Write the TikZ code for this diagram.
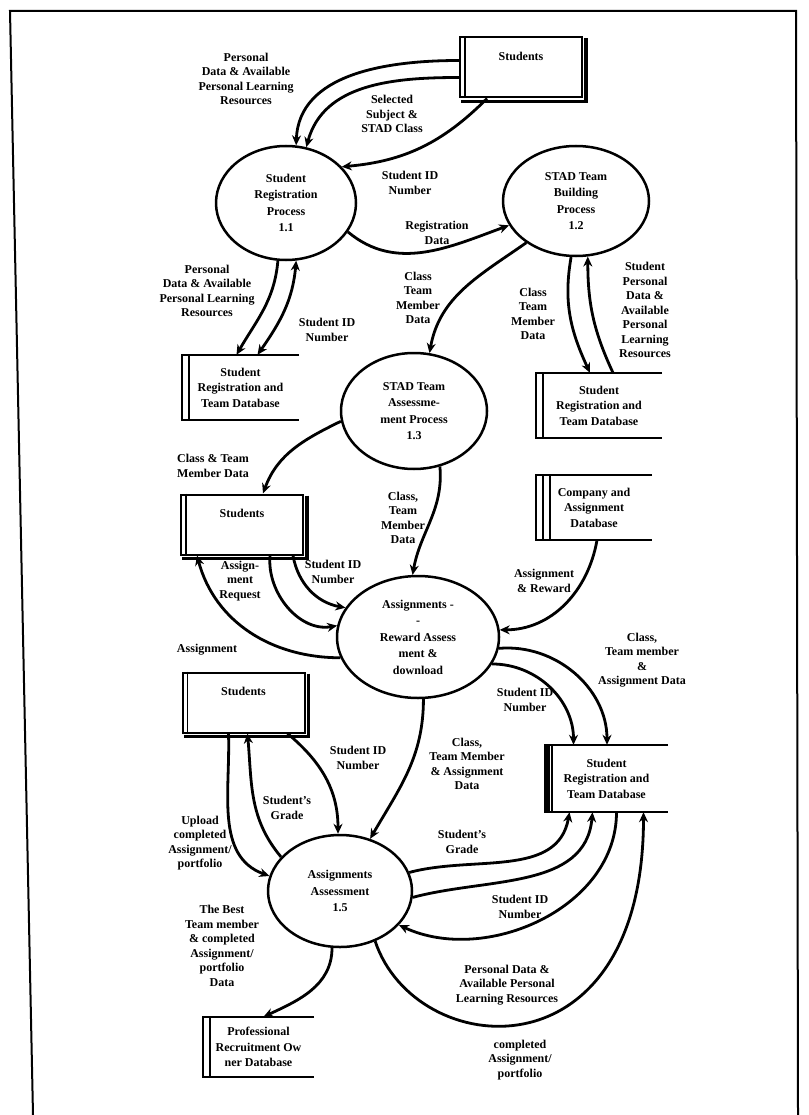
\documentclass[tikz,border=0pt]{standalone}
\usepackage{fontspec}
\setmainfont{Liberation Serif}
\usetikzlibrary{shapes.geometric,arrows.meta}

% data store: open box with a double left edge
\newcommand\storeframe[1]{%
  \draw[line width=2.4pt] (#1.north east) -- (#1.north west) -- (#1.south west) -- (#1.south east);
  \draw[line width=1.4pt] ([xshift=7pt]#1.north west) -- ([xshift=7pt]#1.south west);
}
% external entity: box with inner left line and a heavy shadow
\newcommand\entframe[1]{%
  \draw[line width=1.4pt] ([xshift=6pt]#1.north west) -- ([xshift=6pt]#1.south west);
  \draw[line width=3.5pt] ([shift={(3pt,-2pt)}]#1.north east) -- ([shift={(3pt,-3pt)}]#1.south east) -- ([shift={(2pt,-3pt)}]#1.south west);
}

\tikzset{
  flow/.style={line width=2.8pt,-{Stealth[length=10pt,width=9pt]}},
  twoway/.style={line width=2.8pt,{Stealth[length=10pt,width=9pt]}-{Stealth[length=10pt,width=9pt]}},
  proc/.style={draw,ellipse,line width=2.5pt,inner sep=0pt,align=center,font=\bfseries\fontsize{12}{16.5}\selectfont},
  ent/.style={draw,rectangle,line width=2pt,minimum width=122pt,text height=14pt,text depth=28pt,inner ysep=9pt,font=\bfseries\fontsize{12}{14}\selectfont},
  store/.style={rectangle,minimum height=65pt,inner sep=0pt,align=center,font=\bfseries\fontsize{12}{15.5}\selectfont},
  lbl/.style={align=center,inner sep=1pt,font=\bfseries\fontsize{12}{14.5}\selectfont}
}

\begin{document}
\begin{tikzpicture}[x=1pt,y=1pt]
\useasboundingbox (0,0) rectangle (808,-1115);
% page frame
\draw[line width=2pt] (33,-1115) -- (10,-11) -- (796,-11) -- (798,-1115);

% Processes
\node[proc,minimum width=140pt,minimum height=114pt] (reg) at (286,-203) {Student\\Registration\\Process\\1.1};
\node[proc,minimum width=146pt,minimum height=110pt] (team) at (576,-201) {STAD Team\\Building\\Process\\1.2};
\node[proc,minimum width=146pt,minimum height=116pt] (assess) at (414,-411) {STAD Team\\Assessme-\\ment Process\\1.3};
\node[proc,minimum width=162pt,minimum height=122pt] (asgn) at (418,-637) {Assignments -\\-\\Reward Assess\\ment \&\\download};
\node[proc,minimum width=144pt,minimum height=112pt] (eval) at (340,-891) {Assignments\\Assessment\\1.5};

% External entities
\node[ent] (stud1) at (521,-67.5) {Students};
\node[ent] (stud2) at (242,-524.5) {Students};
\node[ent] (stud3) at (243.5,-702.5) {Students};
\entframe{stud1}
\entframe{stud2}
\entframe{stud3}

% Data stores
\node[store,minimum width=117pt] (db1) at (240.5,-387.5) {Student\\Registration and\\Team Database};
\node[store,minimum width=126pt] (db2) at (599,-405.5) {Student\\Registration and\\Team Database};
\node[store,minimum width=116pt] (comp) at (594,-507.5) {Company and\\Assignment\\Database};
\node[store,minimum width=123pt,minimum height=67pt] (db3) at (606.5,-778.5) {Student\\Registration and\\Team Database};
\node[store,minimum width=111pt,minimum height=60pt] (prof) at (258.5,-1047) {Professional\\Recruitment Ow\\ner Database};
\storeframe{db1}
\storeframe{db2}
\storeframe{comp}
\draw[line width=1.4pt] ([xshift=14pt]comp.north west) -- ([xshift=14pt]comp.south west);
\storeframe{db3}
\draw[line width=4.5pt] ([xshift=3pt]db3.north west) -- ([xshift=3pt]db3.south west);
\storeframe{prof}

% Students <-> 1.1
\draw[flow] ([yshift=7]stud1.west) to[out=180,in=88] (reg.80);
\draw[flow] ([yshift=-10]stud1.west) to[out=180,in=75] (reg.70);
\draw[flow] ([xshift=-34]stud1.south) to[out=-135,in=5] (reg.33);
\node[lbl] (lPers1) at (246,-79) {Personal\\Data \& Available\\Personal Learning\\Resources};
\node[lbl] (lSel) at (392,-114) {Selected\\Subject \&\\STAD Class};
\node[lbl] (lId1) at (410,-183) {Student ID\\Number};

% 1.1 -> 1.2
\draw[flow] (reg.-25) to[out=-40,in=200] (team.200);
\node[lbl] (lRegData) at (437,-233) {Registration\\Data};

% 1.1 <-> store
\draw[flow] (reg.262) to[out=-95,in=60] ([xshift=-4]db1.north);
\draw[twoway] (reg.280) to[out=-95,in=55] ([xshift=17]db1.north);
\node[lbl] (lPers2) at (207,-291) {Personal\\Data \& Available\\Personal Learning\\Resources};
\node[lbl] (lId2) at (327,-330) {Student ID\\Number};

% 1.2 -> 1.3
\draw[flow] (team.220) to[out=215,in=80] (assess.75);
\node[lbl] (lTeam1) at (418,-298) {Class\\Team\\Member\\Data};

% 1.2 <-> store
\draw[flow] (team.265) to[out=-100,in=115] ([xshift=-9]db2.north);
\draw[flow] ([xshift=14]db2.north) to[out=115,in=-90] (team.282);
\node[lbl] (lTeam2) at (533,-314) {Class\\Team\\Member\\Data};
\node[lbl] (lPers3) at (645,-310) {Student\\Personal\\Data \&\\Available\\Personal\\Learning\\Resources};

% 1.3 -> Students, 1.3 -> assignments
\draw[flow] (assess.188) to[out=206,in=70] ([xshift=21]stud2.north);
\node[lbl] (lTeam3) at (213,-466) {Class \& Team\\Member Data};
\draw[flow] (assess.295) to[out=-85,in=80] (asgn.95);
\node[lbl] (lTeam4) at (403,-518) {Class,\\Team\\Member\\Data};

% company store -> assignments
\draw[flow] ([xshift=3]comp.south) to[out=-100,in=0] (asgn.5);
\node[lbl] (lRew) at (544,-581) {Assignment\\\& Reward};

% Students <-> assignments
\draw[flow] ([xshift=28]stud2.south) to[out=-95,in=190] (asgn.172);
\draw[flow] ([xshift=51]stud2.south) to[out=-80,in=170] (asgn.158);
\draw[flow] (asgn.195) to[out=180,in=-75] ([xshift=-45]stud2.south);
\node[lbl] (lReq) at (240,-581) {Assign-\\ment\\Request};
\node[lbl] (lId3) at (333,-572) {Student ID\\Number};
\node[lbl] (lAsg) at (207,-650) {Assignment};

% assignments -> store
\draw[flow] (asgn.-8) to[out=5,in=90] ([xshift=0.5]db3.north);
\draw[flow] (asgn.-20) to[out=0,in=90] ([xshift=-33]db3.north);
\node[lbl] (lTeam5) at (642,-660) {Class,\\Team member\\\&\\Assignment Data};
\node[lbl] (lId4) at (525,-700) {Student ID\\Number};

% assignments -> 1.5
\draw[flow] (asgn.275) to[out=-90,in=60] (eval.60);
\node[lbl] (lTeam6) at (467,-764) {Class,\\Team Member\\\& Assignment\\Data};

% Students <-> 1.5
\draw[flow] ([xshift=44]stud3.south) to[out=-40,in=90] (eval.92);
\draw[flow] (eval.150) to[out=130,in=-85] ([xshift=4]stud3.south);
\draw[flow] ([xshift=-15]stud3.south) to[out=-88,in=160] (eval.168);
\node[lbl] (lId5) at (358,-758) {Student ID\\Number};
\node[lbl] (lGrade1) at (287,-808) {Student's\\Grade};
\node[lbl] (lUp) at (200,-843) {Upload\\completed\\Assignment/\\portfolio};

% 1.5 <-> store
\draw[flow] (eval.15) to[out=15,in=-100] ([xshift=-37]db3.south);
\draw[flow] (eval.-5) to[out=15,in=-95] ([xshift=-14]db3.south);
\draw[flow] ([xshift=10]db3.south) to[out=-90,in=-25] (eval.-30);
\draw[flow] (eval.-55) .. controls +(40,-120) and +(0,-270) .. ([xshift=37]db3.south);
\node[lbl] (lGrade2) at (462,-842) {Student's\\Grade};
\node[lbl] (lId6) at (520,-907) {Student ID\\Number};
\node[lbl] (lPers4) at (507,-985) {Personal Data \&\\Available Personal\\Learning Resources};
\node[lbl] (lPort) at (520,-1060) {completed\\Assignment/\\portfolio};

% 1.5 -> recruitment store
\draw[flow] (eval.262) to[out=-90,in=25] ([xshift=5]prof.north);
\node[lbl] (lBest) at (222,-946) {The Best\\Team member\\\& completed\\Assignment/\\portfolio\\Data};
\end{tikzpicture}
\end{document}
